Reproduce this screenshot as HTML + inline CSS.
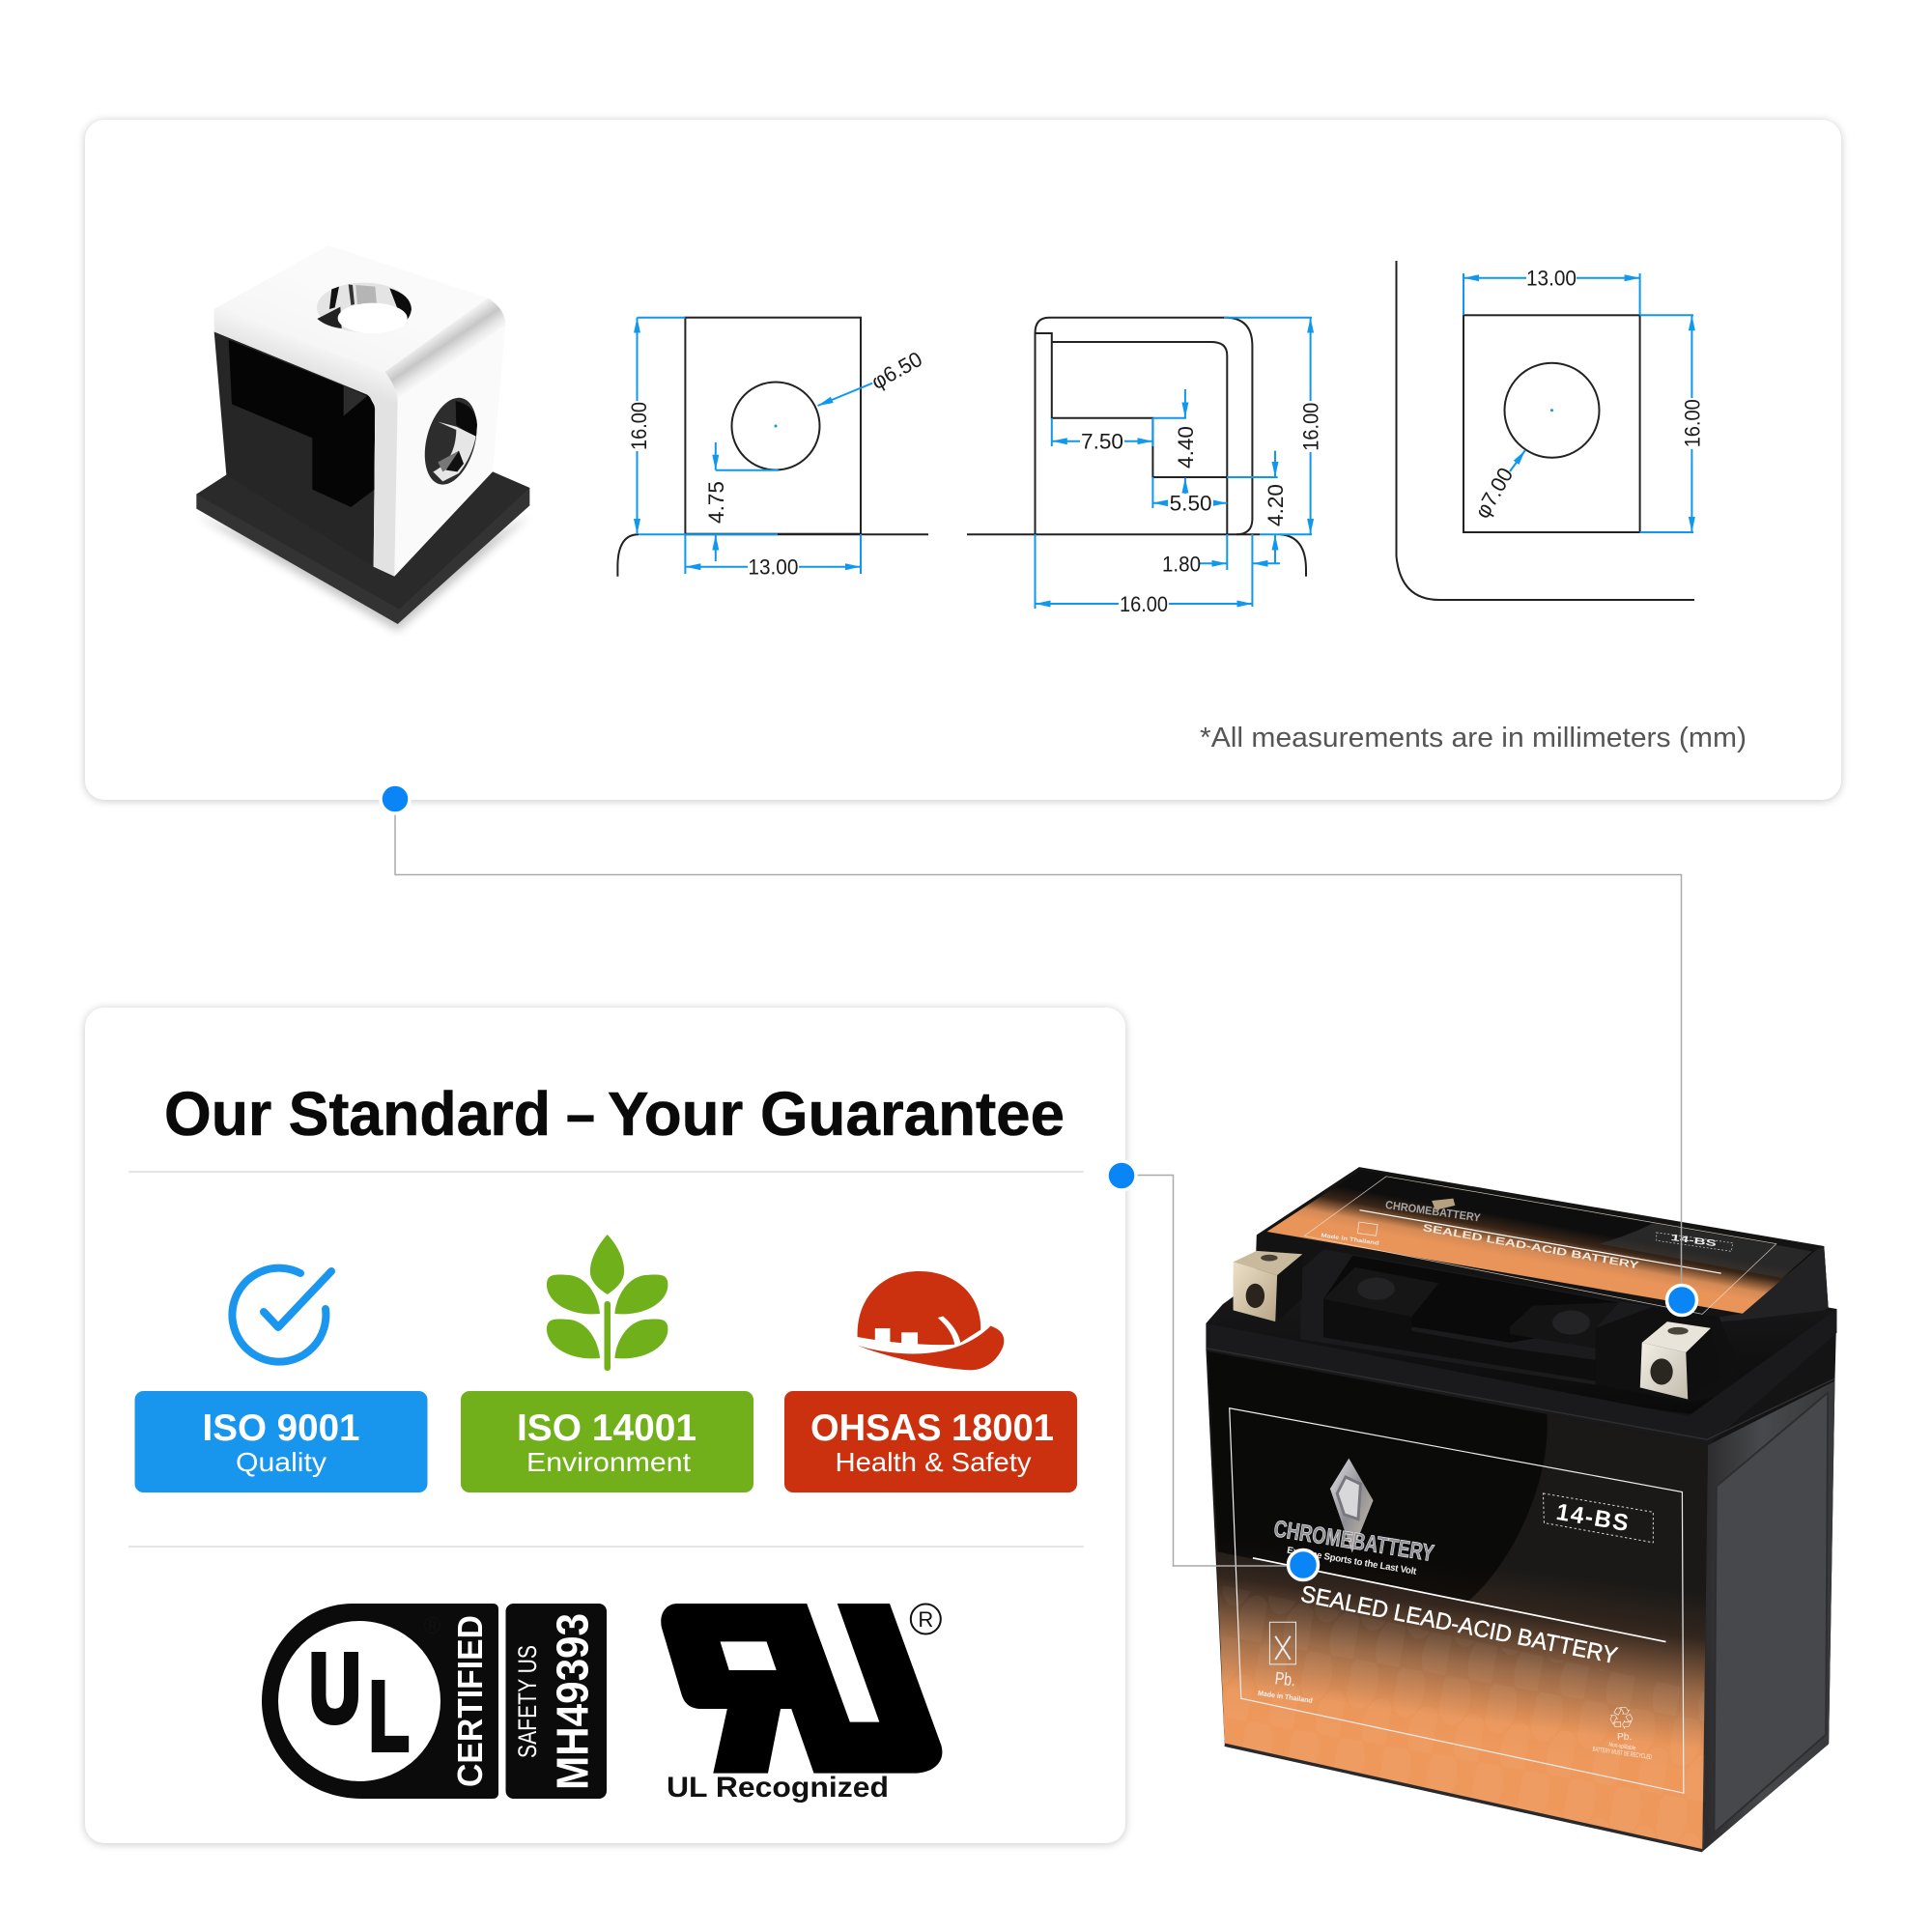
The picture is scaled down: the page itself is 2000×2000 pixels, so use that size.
<!DOCTYPE html>
<html><head><meta charset="utf-8">
<style>
html,body{margin:0;padding:0;background:#fff;width:2000px;height:2000px;overflow:hidden}
.card{position:absolute;background:#fff;border-radius:20px;box-shadow:0 1px 9px rgba(0,0,0,.22)}
svg{position:absolute;left:0;top:0}
text{font-family:"Liberation Sans",sans-serif}
.dim text{font-size:22px;fill:#1a1a1a;text-anchor:middle}
.dim rect.w{fill:#fff;stroke:none}
.b{stroke:#0f98ee;stroke-width:2;fill:none}
.k{stroke:#222;stroke-width:2;fill:none}
.ar{marker-start:url(#ah);marker-end:url(#ah)}
.ae{marker-end:url(#ah)}
.cw text{fill:#fff;text-anchor:middle}
</style></head><body>
<div class="card" style="left:88px;top:124px;width:1818px;height:704px"></div>
<div class="card" style="left:88px;top:1043px;width:1077px;height:865px"></div>
<svg width="2000" height="2000" viewBox="0 0 2000 2000" xmlns="http://www.w3.org/2000/svg">
<defs>
<marker id="ah" orient="auto-start-reverse" markerUnits="userSpaceOnUse" markerWidth="16" markerHeight="8" refX="16" refY="4"><path d="M0,0.5L16,4L0,7.5z" fill="#0f98ee"/></marker>
<filter id="blur"><feGaussianBlur stdDeviation="14"/></filter>
<linearGradient id="bev" gradientUnits="userSpaceOnUse" x1="770" y1="310" x2="830" y2="400"><stop offset="0" stop-color="#f6f6f6"/><stop offset=".45" stop-color="#c6c6c6"/><stop offset=".75" stop-color="#e8e8e8"/><stop offset="1" stop-color="#fafafa"/></linearGradient>
<linearGradient id="topf" gradientUnits="userSpaceOnUse" x1="300" y1="400" x2="400" y2="150"><stop offset="0" stop-color="#dcdcdc"/><stop offset=".3" stop-color="#f6f6f6"/><stop offset="1" stop-color="#fafafa"/></linearGradient>
<linearGradient id="band" gradientUnits="userSpaceOnUse" x1="330" y1="330" x2="300" y2="410"><stop offset="0" stop-color="#f4f4f4"/><stop offset="1" stop-color="#e2e2e2"/></linearGradient>
<linearGradient id="frontL" gradientUnits="userSpaceOnUse" x1="650" y1="900" x2="600" y2="1290"><stop offset="0" stop-color="#1a1917"/><stop offset=".25" stop-color="#33261e"/><stop offset=".55" stop-color="#9a6a48"/><stop offset=".85" stop-color="#ea9559"/><stop offset="1" stop-color="#ee985c"/></linearGradient>
<linearGradient id="topL" gradientUnits="userSpaceOnUse" x1="710" y1="158" x2="695" y2="240"><stop offset="0" stop-color="#0e0e0e"/><stop offset=".35" stop-color="#3a2618"/><stop offset=".75" stop-color="#d48a55"/><stop offset="1" stop-color="#e99459"/></linearGradient>
<linearGradient id="side" x1="0" y1="0" x2="1" y2="0"><stop offset="0" stop-color="#2b2b2d"/><stop offset=".45" stop-color="#48494c"/><stop offset="1" stop-color="#37383a"/></linearGradient>
<linearGradient id="lidg" x1="0" y1="0" x2="0" y2="1"><stop offset="0" stop-color="#1d1d1f"/><stop offset="1" stop-color="#0a0a0a"/></linearGradient>
<linearGradient id="silver" x1="0" y1="0" x2="1" y2="1"><stop offset="0" stop-color="#e4e4e6"/><stop offset=".5" stop-color="#8d8d93"/><stop offset="1" stop-color="#cfc3ac"/></linearGradient>
<linearGradient id="tan" x1="0" y1="0" x2="1" y2="1"><stop offset="0" stop-color="#ece0c8"/><stop offset="1" stop-color="#b7a587"/></linearGradient>
<linearGradient id="sil2" x1="0" y1="0" x2="1" y2="1"><stop offset="0" stop-color="#f3efe5"/><stop offset="1" stop-color="#c2bcae"/></linearGradient>
<pattern id="ov" patternUnits="userSpaceOnUse" width="100" height="170" patternTransform="rotate(10)"><ellipse cx="28" cy="45" rx="34" ry="58" fill="#fff" opacity=".035"/><ellipse cx="78" cy="130" rx="34" ry="58" fill="#fff" opacity=".035"/></pattern>
</defs>

<!-- 3D block -->
<g transform="translate(195,240) scale(.33333)">
<path d="M25,880L650,1240L1060,880L650,1100z" fill="#000" opacity=".22" filter="url(#blur)"/>
<path d="M25,815L118,755L945,745L1060,795V850L650,1218L25,860z" fill="#333"/>
<path d="M25,815L118,755L945,745L1060,795L655,1172z" fill="#2a2a2a"/>
<path d="M80,310L560,505L580,545L575,1040L118,755z" fill="#262626"/>
<path d="M125,335L560,510L578,540V800L505,855L385,800V640L135,535z" fill="#050505"/>
<path d="M482,478L555,510L482,572z" fill="#2c2c2c"/>
<path d="M435,42L930,205Q985,240 985,290L945,745L640,1070L575,1040L580,550Q575,520 555,505L80,310V240z" fill="#fafafa"/>
<path d="M435,42L930,205L610,435L80,240z" fill="url(#topf)"/>
<path d="M80,240L610,435Q640,470 650,520L640,1060L640,1070L575,1040L580,550Q575,520 555,505L80,310z" fill="url(#band)"/>
<path d="M930,205Q985,240 985,290L650,520Q640,470 610,435z" fill="url(#bev)"/>
<ellipse cx="545" cy="235" rx="146" ry="77" fill="#e4e4e4"/>
<path d="M625,175Q690,195 693,240Q690,260 680,272L650,240z" fill="#0d0d0d"/>
<path d="M400,270L472,233L476,300Q430,295 400,270z" fill="#222"/>
<path d="M445,178L468,170L455,235L438,240z" fill="#111"/>
<path d="M497,163L510,165L516,225L505,228z" fill="#333"/>
<path d="M520,165L580,170L585,225L525,228z" fill="#b5b5b5"/>
<ellipse cx="572" cy="268" rx="108" ry="47" fill="#fff"/>
<ellipse cx="815" cy="650" rx="75" ry="138" transform="rotate(15 815 650)" fill="#2d2d2d"/>
<path d="M830,525Q895,540 897,600L893,640L832,600z" fill="#0a0a0a"/>
<path d="M775,590L832,605L893,635Q880,700 840,750L790,775L760,745Q830,710 832,615z" fill="#e6e6e6"/>
<path d="M775,715L840,680L830,720L790,745z" fill="#777"/>
<path d="M840,680L855,720L835,745L800,740z" fill="#111"/>
</g>

<!-- Drawing 1 -->
<g class="dim">
<rect class="k" x="709.4" y="328.7" width="181.6" height="224"/>
<circle class="k" cx="803" cy="441" r="45.5"/>
<path class="k" d="M709,553.3H961"/>
<path class="k" d="M639.4,596.7V585Q640,553.3 661,553.3"/>
<path class="b" d="M661,553.3H805M659.5,328.7H709.4M709.4,553V594M891,553V594M740.8,486.7H805.8"/>
<line class="b ar" x1="659.5" y1="328.7" x2="659.5" y2="553"/>
<line class="b ar" x1="709.4" y1="586.7" x2="891" y2="586.7"/>
<line class="b ae" x1="740.8" y1="458" x2="740.8" y2="486.7"/>
<line class="b ae" x1="740.8" y1="581" x2="740.8" y2="553.5"/>
<line class="b ae" x1="903" y1="396.7" x2="846.5" y2="420"/>
<circle cx="803" cy="441" r="1.5" fill="#0f98ee"/>
<rect class="w" x="774" y="582" width="53" height="10"/>
<rect class="w" x="654" y="415" width="11" height="52"/>
<text x="800.4" y="594.7" textLength="52" lengthAdjust="spacingAndGlyphs">13.00</text>
<text x="661" y="441" dy="8" textLength="50" lengthAdjust="spacingAndGlyphs" transform="rotate(-90 661 441)">16.00</text>
<text x="741" y="520" dy="8" textLength="44" lengthAdjust="spacingAndGlyphs" transform="rotate(-90 741 520)">4.75</text>
<text x="928" y="383" dy="8" textLength="56" lengthAdjust="spacingAndGlyphs" transform="rotate(-29 928 383)">φ6.50</text>
</g>

<!-- Drawing 2 -->
<g class="dim">
<path class="k" d="M1071.5,553.3V345Q1071.5,328.7 1086,328.7H1268Q1296.4,328.7 1296.4,358V538Q1296,553 1280,553.3"/>
<path class="k" d="M1071.5,345H1088.8V432.7H1193.4V494H1270.3M1088.8,354H1254Q1270.3,354 1270.3,368V553"/>
<path class="k" d="M1001,553.3H1304"/>
<path class="k" d="M1325,553.3Q1352,555 1352,590V596.7"/>
<path class="b" d="M1267,328.7H1358M1304,553.3H1358M1193.4,432.7H1228M1270,494H1322.6M1088.8,433V462M1193.4,433V462M1193.4,494V526M1270.3,553V590M1296.4,553V628M1071.5,553V630"/>
<line class="b ar" x1="1088.8" y1="456.7" x2="1193.4" y2="456.7"/>
<line class="b ae" x1="1226.9" y1="403" x2="1226.9" y2="432.5"/>
<line class="b ae" x1="1226.9" y1="511" x2="1226.9" y2="494.5"/>
<line class="b ar" x1="1193.4" y1="520.7" x2="1270.3" y2="520.7"/>
<line class="b ae" x1="1320" y1="466.7" x2="1320" y2="494"/>
<line class="b ae" x1="1320" y1="583" x2="1320" y2="553.5"/>
<line class="b ar" x1="1356.6" y1="328.7" x2="1356.6" y2="553"/>
<line class="b ae" x1="1241.5" y1="583.3" x2="1270.3" y2="583.3"/>
<line class="b ae" x1="1325" y1="583.3" x2="1296.6" y2="583.3"/>
<line class="b ar" x1="1071.5" y1="625" x2="1296.4" y2="625"/>
<rect class="w" x="1118" y="452" width="46" height="10"/>
<rect class="w" x="1209" y="516" width="47" height="10"/>
<rect class="w" x="1158" y="620" width="52" height="10"/>
<rect class="w" x="1351" y="415" width="11" height="53"/>
<text x="1141" y="464.7" textLength="44" lengthAdjust="spacingAndGlyphs">7.50</text>
<text x="1232.6" y="528.7" textLength="44" lengthAdjust="spacingAndGlyphs">5.50</text>
<text x="1223" y="591.3" textLength="40" lengthAdjust="spacingAndGlyphs">1.80</text>
<text x="1184" y="633" textLength="50" lengthAdjust="spacingAndGlyphs">16.00</text>
<text x="1227" y="463" dy="8" textLength="44" lengthAdjust="spacingAndGlyphs" transform="rotate(-90 1227 463)">4.40</text>
<text x="1320" y="523" dy="8" textLength="44" lengthAdjust="spacingAndGlyphs" transform="rotate(-90 1320 523)">4.20</text>
<text x="1356.6" y="441.7" dy="8" textLength="50" lengthAdjust="spacingAndGlyphs" transform="rotate(-90 1356.6 441.7)">16.00</text>
</g>

<!-- Drawing 3 -->
<g class="dim">
<path class="k" d="M1445.5,270V576Q1450,621 1490,621H1754"/>
<rect class="k" x="1515" y="326.3" width="182.6" height="224.7"/>
<circle class="k" cx="1606.5" cy="424.7" r="49"/>
<path class="b" d="M1515,326V283M1697.6,326V283M1697.6,326.3H1753M1697.6,551H1753"/>
<line class="b ar" x1="1515" y1="287.7" x2="1697.6" y2="287.7"/>
<line class="b ar" x1="1751.4" y1="326.3" x2="1751.4" y2="551"/>
<line class="b ae" x1="1563" y1="488" x2="1579" y2="466"/>
<circle cx="1606.5" cy="424.7" r="1.5" fill="#0f98ee"/>
<rect class="w" x="1580" y="283" width="52" height="10"/>
<rect class="w" x="1746" y="412" width="11" height="53"/>
<text x="1606" y="295.7" textLength="52" lengthAdjust="spacingAndGlyphs">13.00</text>
<text x="1751.4" y="438.3" dy="8" textLength="50" lengthAdjust="spacingAndGlyphs" transform="rotate(-90 1751.4 438.3)">16.00</text>
<text x="1546" y="510" dy="8" textLength="56" lengthAdjust="spacingAndGlyphs" transform="rotate(-60 1546 510)">φ7.00</text>
</g>

<text x="1242" y="773" font-size="29" fill="#555" textLength="566" lengthAdjust="spacingAndGlyphs">*All measurements are in millimeters (mm)</text>

<!-- Card 2 heading -->
<g font-size="64" font-weight="700" fill="#0a0a0a" stroke="#0a0a0a" stroke-width=".6">
<text x="170" y="1175" textLength="400" lengthAdjust="spacingAndGlyphs">Our Standard</text>
<text x="586" y="1175" textLength="30" lengthAdjust="spacingAndGlyphs">–</text>
<text x="629" y="1175" textLength="473" lengthAdjust="spacingAndGlyphs">Your Guarantee</text>
</g>
<path d="M133,1213H1122M133,1601H1122" stroke="#ddd" stroke-width="1.5"/>

<!-- Icons -->
<g fill="none" stroke="#1a96ee" stroke-width="8" stroke-linecap="round" stroke-linejoin="round">
<path d="M311,1318A48.5,48.5 0 1 0 337,1355"/>
<path d="M273,1358L288,1374L343,1316"/>
</g>
<g fill="#70b01a">
<path d="M628.7,1278C640,1290 647,1305 646,1318C645,1328 636,1335 628.7,1340C621,1335 612,1328 611,1318C610,1305 618,1290 628.7,1278z"/>
<rect x="625.5" y="1347" width="6.5" height="72" rx="3"/>
<path d="M621,1360C590,1363 566,1348 566,1330C566,1318 575,1319 590,1320C610,1323 620,1345 621,1360z"/>
<path d="M636.4,1360C667.4,1363 691.4,1348 691.4,1330C691.4,1318 682.4,1319 667.4,1320C647.4,1323 637.4,1345 636.4,1360z"/>
<path d="M621,1406C590,1409 566,1394 566,1376C566,1364 575,1365 590,1366C610,1369 620,1391 621,1406z"/>
<path d="M636.4,1406C667.4,1409 691.4,1394 691.4,1376C691.4,1364 682.4,1365 667.4,1366C647.4,1369 637.4,1391 636.4,1406z"/>
</g>
<g transform="translate(120,1260) scale(.6505,.3333)">
<path d="M1180,372C1178,250 1220,168 1278,168C1340,168 1378,250 1376,350L1340,395C1290,400 1230,390 1180,372z" fill="#cb310f"/>
<rect x="1208" y="345" width="24" height="52" fill="#fff"/><rect x="1250" y="358" width="26" height="46" fill="#fff"/>
<path d="M1312,310C1330,340 1338,370 1340,400" stroke="#fff" stroke-width="10" fill="none"/>
<path d="M1180,398C1250,440 1340,440 1392,338C1410,350 1416,370 1412,400C1405,440 1385,475 1360,475C1300,470 1220,430 1180,398z" fill="#cb310f"/>
</g>

<!-- Badges -->
<g class="cw">
<rect x="139.5" y="1440" width="303" height="105" rx="9" fill="#1896ee"/>
<rect x="477" y="1440" width="303" height="105" rx="9" fill="#72b01b"/>
<rect x="812" y="1440" width="303" height="105" rx="9" fill="#cb310f"/>
<text x="291" y="1491" font-size="39" font-weight="700" textLength="163" lengthAdjust="spacingAndGlyphs">ISO 9001</text>
<text x="291" y="1523" font-size="28" textLength="94" lengthAdjust="spacingAndGlyphs">Quality</text>
<text x="628" y="1491" font-size="39" font-weight="700" textLength="186" lengthAdjust="spacingAndGlyphs">ISO 14001</text>
<text x="630" y="1523" font-size="28" textLength="170" lengthAdjust="spacingAndGlyphs">Environment</text>
<text x="965" y="1491" font-size="39" font-weight="700" textLength="252" lengthAdjust="spacingAndGlyphs">OHSAS 18001</text>
<text x="966" y="1523" font-size="28" textLength="203" lengthAdjust="spacingAndGlyphs">Health &amp; Safety</text>
</g>

<!-- UL mark -->
<path d="M365,1660H510Q516,1660 516,1666V1856Q516,1862 510,1862H375C310,1862 271,1810 271,1761C271,1710 310,1660 365,1660z" fill="#0b0b0b"/>
<ellipse cx="372" cy="1761" rx="84" ry="83" fill="#fff"/>
<g font-size="100" font-weight="700" fill="#0b0b0b" stroke="#0b0b0b" stroke-width="6">
<text x="320.2" y="1782" textLength="53" lengthAdjust="spacingAndGlyphs">U</text>
<text x="382.3" y="1811" textLength="41" lengthAdjust="spacingAndGlyphs">L</text>
</g>
<text x="447.5" y="1691" font-size="24" text-anchor="middle" fill="#111">®</text>
<text transform="translate(499,1850) rotate(-90)" font-size="36" font-weight="700" fill="#fff" textLength="178" lengthAdjust="spacingAndGlyphs">CERTIFIED</text>
<rect x="523.5" y="1660" width="104.5" height="202" rx="8" fill="#0b0b0b"/>
<text transform="translate(555,1820) rotate(-90)" font-size="27" fill="#fff" textLength="117" lengthAdjust="spacingAndGlyphs">SAFETY US</text>
<text transform="translate(608.5,1853) rotate(-90)" font-size="46" font-weight="700" fill="#fff" textLength="183" lengthAdjust="spacingAndGlyphs">MH49393</text>

<!-- UR mark -->
<g transform="translate(240,1630) scale(.4847,.3333)">
<path fill-rule="evenodd" fill="#000" d="M950,90H1228L1320,458H1383L1293,90H1405L1515,530C1525,580 1500,615 1460,617H1243L1195,417H1172L1145,617H1028L1058,417H1000C975,415 965,395 960,370L918,165C912,125 925,92 950,90zM1043,208H1142L1163,297H1062z"/>
</g>
<circle cx="958.3" cy="1676" r="15.5" fill="none" stroke="#111" stroke-width="2"/>
<text x="958.3" y="1684" font-size="22" text-anchor="middle" fill="#111">R</text>
<text x="690" y="1860" font-size="30" font-weight="700" fill="#111" textLength="230" lengthAdjust="spacingAndGlyphs">UL Recognized</text>

<!-- Battery -->
<g transform="translate(1200,1180) scale(.4847)">
<path d="M208,203L427,58L1420,227L1429,358L1447,361L1443,515L1430,1290L1160,1520L140,1295L100,450V392L136,351L205,300z" fill="#141415"/>
<path d="M230,196L432,64L1400,238L1246,371z" fill="url(#topL)"/>
<path d="M940,222Q1000,205 1055,178L1395,238L1330,295z" fill="#3a3a3a" opacity=".6"/>
<path d="M1246,371L1402,236L1420,227L1429,358L1237,481L1196,378z" fill="#222224"/>
<path d="M485,78L1318,222L1160,372L310,205z" fill="none" stroke="#f5e7d8" stroke-width="1.5" opacity=".8"/>
<path d="M428,150L1200,285" stroke="#fff" stroke-width="2.5"/>
<path d="M1062,198L1225,220L1222,238L1062,215z" fill="none" stroke="#ccc" stroke-width="1.5" stroke-dasharray="4 4"/>
<text transform="translate(1092,214) rotate(8)" font-size="19" font-weight="700" fill="#eee" textLength="98" lengthAdjust="spacingAndGlyphs">14-BS</text>
<text transform="translate(562,194) rotate(10)" font-size="22" font-weight="700" fill="#f5e9dc" textLength="468" lengthAdjust="spacingAndGlyphs">SEALED LEAD-ACID BATTERY</text>
<text transform="translate(482,146) rotate(8)" font-size="24" font-weight="700" fill="#a5a5a5" textLength="205" lengthAdjust="spacingAndGlyphs">CHROMEBATTERY</text>
<path d="M582,130L628,125L632,140L590,150z" fill="#b5a07f"/>
<text transform="translate(345,207) rotate(8)" font-size="12" font-weight="700" fill="#eee" textLength="125" lengthAdjust="spacingAndGlyphs">Made in Thailand</text>
<rect x="425" y="178" width="40" height="24" fill="none" stroke="#eee" stroke-width="1.5" transform="rotate(8 445 190)"/>

<!-- lid and recess -->
<path d="M100,392L136,351L208,300L302,340L302,278L351,234L1053,357L1032,400L1240,385L1447,361V412L1170,590L100,450z" fill="url(#lidg)"/>
<path d="M208,203L230,196L360,228L351,234L302,278L250,250z" fill="#131314"/>
<path d="M302,278L351,234L1053,357L932,402V523L302,426z" fill="#1b1b1d"/>
<path d="M351,340L413,247L982,347L932,402L749,433L539,399V378z" fill="#0a0a0b"/>
<path d="M351,340L418,272L597,306L539,378z" fill="#161617"/>
<path d="M351,340L539,378V408L749,445L932,470V515L351,422z" fill="#0e0e0f"/>
<path d="M749,399L798,354L982,347L932,402V445L749,415z" fill="#141415"/>
<ellipse cx="463" cy="318" rx="40" ry="24" fill="#232325"/>
<ellipse cx="880" cy="390" rx="40" ry="26" fill="#232325"/>
<path d="M932,402L1053,357L1130,370L1196,378L1237,481V540L1130,560L932,523z" fill="#101011"/>
<path d="M100,392L1130,590L1447,361V412L1175,650L100,450z" fill="#1a1a1c"/>
<path d="M100,445L1170,640L1443,510" fill="none" stroke="#2e2e30" stroke-width="3"/>

<!-- terminals -->
<path d="M252,289L306,244L305,340L250,388z" fill="#111"/>
<path d="M158,261L208,237L306,244L252,289z" fill="#c9b99d"/>
<path d="M158,261L252,289L248,388L158,364z" fill="url(#tan)"/>
<ellipse cx="205" cy="333" rx="20" ry="26" fill="#2a241c"/>
<ellipse cx="235" cy="252" rx="18" ry="7" fill="#4a4034"/>
<path d="M1125,454L1178,402L1200,505L1130,554z" fill="#0f0f0f"/>
<path d="M1031,433L1085,388L1178,402L1125,454z" fill="#e8e4da"/>
<path d="M1031,433L1125,454L1129,554L1027,529z" fill="url(#sil2)"/>
<ellipse cx="1073" cy="495" rx="24" ry="28" fill="#2a2620"/>
<ellipse cx="1108" cy="408" rx="22" ry="8" fill="#4a453b"/>

<!-- side face -->
<path d="M1172,652L1443,515L1430,1290L1160,1520z" fill="url(#side)"/>
<path d="M1190,740L1428,540L1424,1270L1185,1480z" fill="#47484b" stroke="#2e2e30" stroke-width="4"/>
<!-- front label -->
<path d="M104,452L1172,650L1160,1518L140,1292z" fill="url(#frontL)"/>
<path d="M104,452L828,586C838,720 760,900 660,985L125,880z" fill="#000" opacity=".6"/>
<path d="M130,950L1165,1180V1515L140,1290z" fill="url(#ov)"/>
<path d="M140,1292L1160,1518" stroke="#2a2a2c" stroke-width="7"/>
<path d="M150,573L1117,752L1120,1395L175,1193z" fill="none" stroke="#ececec" stroke-width="2.5"/>
<path d="M200,893L1082,1072" stroke="#fff" stroke-width="3.5"/>
<path d="M820,755L1055,795L1055,860L822,818z" fill="none" stroke="#ddd" stroke-width="2" stroke-dasharray="5 5"/>
<text transform="translate(846,810) rotate(9.5)" font-size="50" font-weight="700" fill="#fff" textLength="155" lengthAdjust="spacing">14-BS</text>
<text transform="translate(300,985) rotate(11.2)" font-size="50" fill="#fff" stroke="#fff" stroke-width=".8" textLength="688" lengthAdjust="spacingAndGlyphs">SEALED LEAD-ACID BATTERY</text>
<path d="M405,680L457,770L412,882L365,745z" fill="url(#silver)"/>
<path d="M398,720L430,735L425,810L395,800L380,755z" fill="#d8d8da" stroke="#77777d" stroke-width="6"/>
<text transform="translate(243,846) rotate(9)" font-size="50" font-weight="700" fill="#8e8e96" stroke="#e6e6e6" stroke-width="1.5" textLength="345" lengthAdjust="spacingAndGlyphs">CHROMEBATTERY</text>
<text transform="translate(272,882) rotate(9.5)" font-size="20" font-weight="700" fill="#eee" textLength="280" lengthAdjust="spacing">Extreme Sports to the Last Volt</text>
<rect x="236" y="1030" width="56" height="90" fill="none" stroke="#eee" stroke-width="2"/>
<path d="M248,1060L280,1110M280,1060L248,1110" stroke="#eee" stroke-width="4"/>
<text x="246" y="1162" font-size="38" fill="#f2f2f2" textLength="44" lengthAdjust="spacingAndGlyphs" transform="rotate(6 246 1162)">Pb.</text>
<text transform="translate(210,1186) rotate(8)" font-size="15" font-weight="700" fill="#f4f4f4" textLength="118" lengthAdjust="spacingAndGlyphs">Made in Thailand</text>
<text x="987" y="1258" font-size="66" text-anchor="middle" fill="#f5efe6" style='font-family:"DejaVu Sans",sans-serif'>♲</text>
<text x="978" y="1281" font-size="21" fill="#f5efe6">Pb.</text>
<text transform="translate(960,1295) rotate(8)" font-size="13" fill="#f5efe6" textLength="58" lengthAdjust="spacingAndGlyphs">Non-spillable</text>
<text transform="translate(925,1305) rotate(8)" font-size="14" fill="#f5efe6" textLength="128" lengthAdjust="spacingAndGlyphs">BATTERY MUST BE RECYCLED</text>
</g>

<!-- Connectors -->
<path d="M409,827V905.5H1740.5V1346M1161,1216.5H1214.5V1621H1349" fill="none" stroke="#aaa" stroke-width="1.5"/>
<g fill="#0a85f5" stroke="#fff" stroke-width="3.5">
<circle cx="409" cy="827" r="15"/>
<circle cx="1161" cy="1217" r="15"/>
<circle cx="1741" cy="1346" r="15.5"/>
<circle cx="1349" cy="1620" r="15.5"/>
</g>
</svg>
</body></html>
